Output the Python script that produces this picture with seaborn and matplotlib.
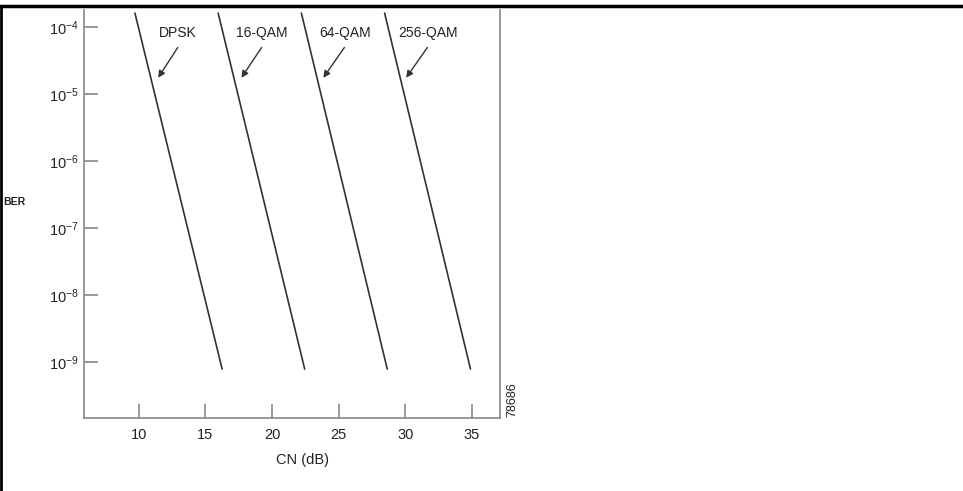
import matplotlib
matplotlib.use("Agg")
import matplotlib.pyplot as plt
import matplotlib.ticker as mticker
from matplotlib.lines import Line2D
import seaborn as sns
import pandas as pd
import numpy as np

# BER curves: endpoints (CN in dB, BER)
schemes = ["DPSK", "16-QAM", "64-QAM", "256-QAM"]
cn_start = [9.70, 15.95, 22.20, 28.45]
cn_end = [16.25, 22.45, 28.65, 34.90]
ber_start = [1.63e-4, 1.63e-4, 1.63e-4, 1.63e-4]
ber_end = [7.9e-10, 7.9e-10, 7.9e-10, 7.9e-10]

x_ticks = [10, 15, 20, 25, 30, 35]
y_ticks = [1e-4, 1e-5, 1e-6, 1e-7, 1e-8, 1e-9]


def main():
    sns.set_style("white")
    plt.rcParams["font.family"] = ["Liberation Sans", "DejaVu Sans"]
    plt.rcParams["mathtext.fontset"] = "custom"
    plt.rcParams["mathtext.rm"] = "Liberation Sans"
    plt.rcParams["mathtext.it"] = "Liberation Sans"
    plt.rcParams["axes.unicode_minus"] = False

    rows = []
    for s, x0, x1, y0, y1 in zip(schemes, cn_start, cn_end, ber_start, ber_end):
        rows.append({"scheme": s, "cn": x0, "ber": y0})
        rows.append({"scheme": s, "cn": x1, "ber": y1})
    df = pd.DataFrame(rows)

    fig = plt.figure(figsize=(9.63, 4.91), dpi=100)
    ax = fig.add_axes([0.0872, 0.1487, 0.4318, 0.8309])

    sns.lineplot(data=df, x="cn", y="ber", units="scheme", estimator=None,
                 color="#333333", linewidth=1.2, ax=ax, legend=False)

    ax.set_yscale("log")
    ax.set_xlim(5.875, 37.1)
    ax.set_ylim(1.47e-10, 1.81e-4)
    ax.set_xticks(x_ticks)
    ax.set_yticks(y_ticks)
    ax.yaxis.set_major_formatter(mticker.LogFormatterSciNotation())
    ax.yaxis.set_minor_locator(mticker.NullLocator())
    ax.tick_params(bottom=True, left=True, direction="in", length=10,
                   width=1.2, color="#888888", labelsize=10.5,
                   labelcolor="#222222", pad=4)
    ax.tick_params(axis="x", pad=7)
    ax.set_xlabel("")
    ax.set_ylabel("")

    for side in ["left", "bottom", "right"]:
        ax.spines[side].set_color("#888888")
        ax.spines[side].set_linewidth(1.2)
    ax.spines["top"].set_visible(False)

    # labels and arrows
    label_x = [12.93, 19.23, 25.45, 31.68]
    head_x = [11.33, 17.58, 23.73, 29.95]
    for s, tx, hx in zip(schemes, label_x, head_x):
        ax.text(tx, 8.2e-5, s, ha="center", va="center", fontsize=10,
                color="#222222")
        ax.annotate("", xy=(hx, 1.63e-5), xytext=(tx + 0.1, 5.4e-5),
                    arrowprops=dict(arrowstyle="-|>", color="#333333",
                                    lw=1, mutation_scale=10))

    fig.text(0.3146, 0.063, "CN (dB)", ha="center", va="center",
             fontsize=10.5, color="#222222")
    fig.text(0.003, 0.589, "BER", ha="left", va="center", fontsize=7.5,
             fontweight="bold", color="#222222")
    fig.text(0.532, 0.187, "78686", rotation=90, ha="center", va="center",
             fontsize=9, color="#222222")

    # frame lines of the original page
    fig.add_artist(Line2D([0, 1], [0.9885, 0.9885], color="black", lw=2.5,
                          transform=fig.transFigure))
    fig.add_artist(Line2D([0.001, 0.001], [0, 0.9885], color="black", lw=2,
                          transform=fig.transFigure))

    fig.savefig("out.png", dpi=100)


if __name__ == "__main__":
    main()
